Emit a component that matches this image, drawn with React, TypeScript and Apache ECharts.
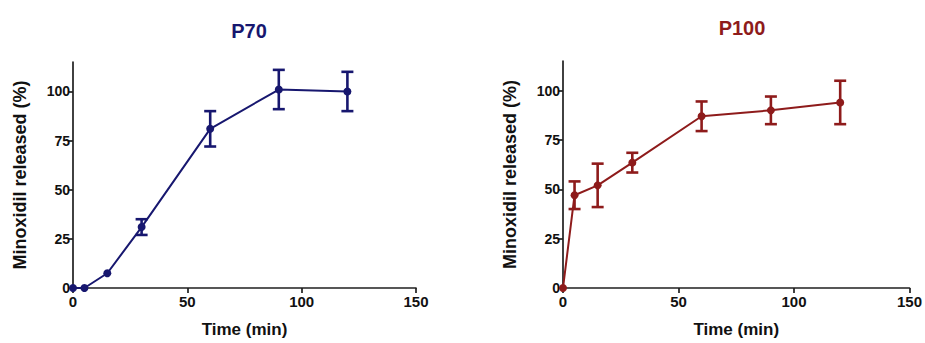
import React, { useEffect, useRef } from "react";
import * as echarts from "echarts";

const times = [0, 5, 15, 30, 60, 90, 120];
const p70Mean = [0, 0, 7.5, 31, 81, 101, 100];
const p70Sd = [0, 0, 0, 4, 9, 10, 10];
const p100Mean = [0, 47, 52, 63.5, 87, 90, 94];
const p100Sd = [0, 7, 11, 5, 7.5, 7, 11];
const xTicks = [0, 50, 100, 150];
const yTicks = [0, 25, 50, 75, 100];
const titles = ["P70", "P100"];

const NAVY = "#17176f";
const RED = "#8e1b1b";
const AXIS = "#1f1f1f";

function errorSeries(means: number[], sds: number[], color: string, idx: number) {
  return {
    type: "custom",
    xAxisIndex: idx,
    yAxisIndex: idx,
    clip: false,
    z: 3,
    data: times.map((t, i) => [t, means[i], sds[i]]),
    renderItem: (params: any, api: any) => {
      const x = api.value(0);
      const y = api.value(1);
      const e = api.value(2);
      if (!e) return { type: "group", children: [] };
      const top = api.coord([x, y + e]);
      const bot = api.coord([x, y - e]);
      const hw = 6;
      const style = { stroke: color, lineWidth: 2.6 };
      return {
        type: "group",
        children: [
          { type: "line", shape: { x1: top[0], y1: top[1], x2: bot[0], y2: bot[1] }, style },
          { type: "line", shape: { x1: top[0] - hw, y1: top[1], x2: top[0] + hw, y2: top[1] }, style },
          { type: "line", shape: { x1: bot[0] - hw, y1: bot[1], x2: bot[0] + hw, y2: bot[1] }, style },
        ],
      };
    },
  };
}

function lineSeries(means: number[], color: string, idx: number) {
  return {
    type: "line",
    xAxisIndex: idx,
    yAxisIndex: idx,
    clip: false,
    z: 4,
    data: times.map((t, i) => [t, means[i]]),
    symbol: "circle",
    symbolSize: 8,
    lineStyle: { color, width: 2 },
    itemStyle: { color },
  };
}

function xAxis(idx: number) {
  return {
    type: "value",
    gridIndex: idx,
    min: 0,
    max: 150,
    interval: 50,
    name: "Time (min)",
    nameLocation: "middle",
    nameGap: 33,
    nameTextStyle: { fontFamily: "Liberation Sans", fontWeight: "bold", fontSize: 17, color: "#111" },
    splitLine: { show: false },
    axisLine: { show: true, lineStyle: { color: AXIS, width: 1.7 } },
    axisTick: { show: true, length: 5, lineStyle: { color: AXIS, width: 1.7 }, customValues: xTicks },
    axisLabel: {
      fontFamily: "Liberation Sans",
      fontWeight: "bold",
      fontSize: 15,
      color: "#111",
      margin: 6,
      customValues: xTicks,
    },
  };
}

function yAxis(idx: number) {
  return {
    type: "value",
    gridIndex: idx,
    min: 0,
    max: 115,
    interval: 25,
    name: "Minoxidil released (%)",
    nameLocation: "middle",
    nameGap: 44,
    nameTextStyle: { fontFamily: "Liberation Sans", fontWeight: "bold", fontSize: 18, color: "#111" },
    splitLine: { show: false },
    axisLine: { show: true, lineStyle: { color: AXIS, width: 1.7 } },
    axisTick: { show: true, length: 5, lineStyle: { color: AXIS, width: 1.7 }, customValues: yTicks },
    axisLabel: {
      fontFamily: "Liberation Sans",
      fontWeight: "bold",
      fontSize: 14,
      color: "#111",
      margin: 3,
      customValues: yTicks,
    },
  };
}

export default function App() {
  const ref = useRef<HTMLDivElement>(null);
  useEffect(() => {
    document.body.style.margin = "0";
    if (!ref.current) return;
    const chart = echarts.init(ref.current, null, { renderer: "svg" });
    chart.setOption({
      animation: false,
      backgroundColor: "#ffffff",
      title: [
        {
          text: titles[0],
          left: 244,
          top: 16,
          textAlign: "center",
          textStyle: { fontFamily: "Liberation Sans", fontWeight: "bold", fontSize: 20, color: NAVY },
        },
        {
          text: titles[1],
          left: 737,
          top: 13,
          textAlign: "center",
          textStyle: { fontFamily: "Liberation Sans", fontWeight: "bold", fontSize: 20, color: RED },
        },
      ],
      grid: [
        { left: 73, top: 62, width: 343, height: 227, containLabel: false },
        { left: 563, top: 61, width: 347, height: 231, containLabel: false },
      ],
      xAxis: [xAxis(0), xAxis(1)],
      yAxis: [yAxis(0), yAxis(1)],
      series: [
        errorSeries(p70Mean, p70Sd, NAVY, 0),
        lineSeries(p70Mean, NAVY, 0),
        errorSeries(p100Mean, p100Sd, RED, 1),
        lineSeries(p100Mean, RED, 1),
      ],
    });
    return () => chart.dispose();
  }, []);
  return <div ref={ref} style={{ width: 925, height: 343 }} />;
}
